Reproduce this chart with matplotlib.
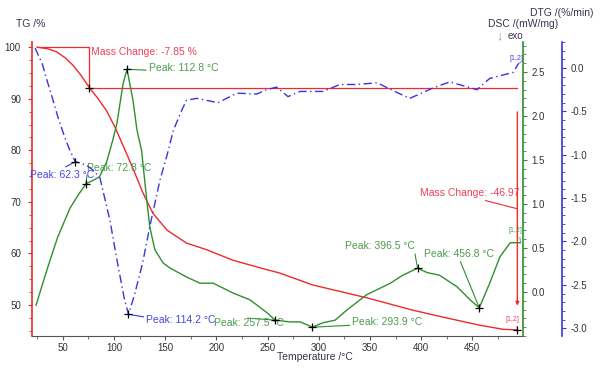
import matplotlib
matplotlib.use("Agg")
import matplotlib.pyplot as plt
from matplotlib.ticker import AutoMinorLocator, MultipleLocator

plt.rcParams['font.family'] = ['Liberation Sans', 'DejaVu Sans']

# TG curve (mass %)
tg_temp = [25, 35, 44, 52, 60, 68, 76, 85, 93, 101, 111, 120, 128, 138, 152, 171, 191,
           216, 243, 262, 294, 347, 392, 425, 457, 480, 494]
tg_mass = [100, 99.7, 99.1, 98.0, 96.5, 94.5, 92.15, 89.9, 87.6, 84.5, 80.0, 75.8, 71.9,
           67.8, 64.5, 62.0, 60.7, 58.7, 57.2, 56.2, 53.9, 51.4, 49.0, 47.5, 46.1, 45.3, 45.18]

# DSC curve (mW/mg)
dsc_temp = [24, 30, 37.6, 45, 57, 65, 72.8, 80, 86, 93, 99, 103, 109, 112.8, 118.6, 122.5,
            127, 132, 135, 140, 148, 155, 171, 184, 197, 216, 233, 250, 257.5, 272, 282,
            293.9, 304, 316, 328, 347, 370, 382, 396.5, 406, 418, 435, 448, 456.8, 467,
            477, 487, 497]
dsc_val = [-0.15, 0.08, 0.36, 0.62, 0.95, 1.10, 1.23, 1.27, 1.31, 1.48, 1.73, 1.92, 2.37,
           2.53, 2.18, 1.84, 1.61, 1.05, 0.74, 0.48, 0.33, 0.27, 0.17, 0.10, 0.10, -0.01,
           -0.09, -0.24, -0.32, -0.34, -0.34, -0.40, -0.35, -0.32, -0.20, -0.03, 0.10, 0.19,
           0.27, 0.22, 0.19, 0.06, -0.09, -0.18, 0.10, 0.40, 0.56, 0.56]

# DTG curve (%/min)
dtg_temp = [23, 30, 34.6, 40.5, 45.4, 52, 57, 62.3, 73, 80, 86.4, 96, 104, 110, 114.2, 120,
            128, 135, 145, 152, 158, 166.5, 171, 181, 201.6, 220, 239.5, 249, 259, 270,
            281.7, 304, 320.8, 337, 357, 376, 389, 411.6, 428, 454.6, 467, 490, 495]
dtg_val = [0.23, 0.05, -0.14, -0.37, -0.57, -0.80, -0.95, -1.08, -1.12, -1.18, -1.27,
           -1.75, -2.28, -2.65, -2.84, -2.62, -2.25, -1.83, -1.29, -1.0, -0.72, -0.48,
           -0.37, -0.35, -0.40, -0.29, -0.30, -0.25, -0.22, -0.33, -0.27, -0.27, -0.19,
           -0.19, -0.17, -0.28, -0.35, -0.23, -0.16, -0.25, -0.12, -0.05, 0.05]

# peak labels: temperature, value, text offset (px), leader anchor on text
dsc_peaks = [(112.8, 2.53, (22, 1), (0, 0.3)),
             (72.8, 1.23, (1, 16), (0, 0)),
             (257.5, -0.32, (-61, -3), (0.48, 1)),
             (293.9, -0.40, (40, 5), (0, 0.2)),
             (396.5, 0.27, (-73, 22), (1, 0)),
             (456.8, -0.18, (-55, 54), (0.5, 0))]
dtg_peaks = [(62.3, -1.08, (-45, -13), (0.47, 1)),
             (114.2, -2.84, (18, -6), (0, 0.8))]

# mass change steps: (temperature, mass)
mass_steps = [(25, 100.0), (76, 92.15), (494, 45.18)]

x_ticks = [50, 100, 150, 200, 250, 300, 350, 400, 450]
tg_ticks = [50, 60, 70, 80, 90, 100]
dsc_ticks = [0.0, 0.5, 1.0, 1.5, 2.0, 2.5]
dtg_ticks = [-3.0, -2.5, -2.0, -1.5, -1.0, -0.5, 0.0]

RED = '#ee2a2a'
GREEN = '#2f8f2f'
BLUE = '#3535e0'
RED_TXT = '#f0405a'
GREEN_TXT = '#4f9a4f'
BLUE_TXT = '#4646e6'
LABEL = '#3f3050'
TICK = '#333333'

fig = plt.figure(figsize=(6, 3.69), dpi=100)
ax = fig.add_axes([32 / 600, 33 / 369, 491 / 600, 294 / 369])
ax2 = ax.twinx()
ax3 = ax.twinx()

ax.plot(tg_temp, tg_mass, color=RED, lw=1.0, zorder=3)
ax2.plot(dsc_temp, dsc_val, color=GREEN, lw=1.0)
ax3.plot(dtg_temp, dtg_val, color=BLUE, lw=1.0, dashes=(6, 2.5, 1, 2.5))

ax.set_xlim(20, 499.5)
ax.set_ylim(44.0, 101.0)
ax2.set_ylim(-0.5, 2.84)
ax3.set_ylim(-3.09, 0.30)

# spines
for s in ['top', 'right']:
    ax.spines[s].set_visible(False)
ax.spines['left'].set_color(RED)
ax.spines['bottom'].set_color('#555555')
for s in ['top', 'left', 'bottom']:
    ax2.spines[s].set_visible(False)
    ax3.spines[s].set_visible(False)
ax2.spines['right'].set_color(GREEN)
ax3.spines['right'].set_color(BLUE)
ax3.spines['right'].set_position(('outward', 28))
ax3.spines['right'].set_linewidth(1.2)
ax2.spines['right'].set_linewidth(1.2)
ax.spines['left'].set_linewidth(1.2)

ax.set_xticks(x_ticks)
ax.xaxis.set_minor_locator(AutoMinorLocator(2))
ax.set_yticks(tg_ticks)
ax.yaxis.set_minor_locator(AutoMinorLocator(4))
ax2.set_yticks(dsc_ticks)
ax2.yaxis.set_minor_locator(AutoMinorLocator(5))
ax3.set_yticks(dtg_ticks)
ax3.yaxis.set_minor_locator(AutoMinorLocator(5))

ax.tick_params(axis='x', colors='#555555', labelcolor=TICK, labelsize=7, length=3, pad=2)
ax.tick_params(axis='x', which='minor', colors='#555555', length=2)
ax.tick_params(axis='y', colors=RED, labelcolor=TICK, labelsize=7, length=3, pad=5)
ax.tick_params(axis='y', which='minor', colors=RED, length=2)
ax2.tick_params(axis='y', colors=GREEN, labelcolor=TICK, labelsize=7, length=3, pad=3)
ax2.tick_params(axis='y', which='minor', colors=GREEN, length=2)
ax3.tick_params(axis='y', colors=BLUE, labelcolor=TICK, labelsize=7, length=3, pad=3)
ax3.tick_params(axis='y', which='minor', colors=BLUE, length=2)
ax2.yaxis.set_major_formatter(lambda v, p: f"{v:.1f}")
ax3.yaxis.set_major_formatter(lambda v, p: f"{v:.1f}")

# axis titles
fig.text(16 / 600, 1 - 24 / 369, 'TG /%', color=LABEL, fontsize=7.5, ha='left', va='center')
fig.text(488 / 600, 1 - 24 / 369, 'DSC /(mW/mg)', color=LABEL, fontsize=7.5, ha='left', va='center')
fig.text(530 / 600, 1 - 13 / 369, 'DTG /(%/min)', color=LABEL, fontsize=7.5, ha='left', va='center')
fig.text(496 / 600, 1 - 36 / 369, '\u2193', color='#999999', fontsize=9, ha='left', va='center')
fig.text(508 / 600, 1 - 36 / 369, 'exo', color=LABEL, fontsize=7, ha='left', va='center')
fig.text(315 / 600, 1 - 357 / 369, 'Temperature /\u00b0C', color=LABEL, fontsize=7.5,
         ha='center', va='center')

# mass change brackets
(t0, m0), (t1, m1), (t2, m2) = mass_steps
ax.plot([t0, t1, t1], [m0, m0, m1], color=RED, lw=0.9)
ax.plot([t1, t2], [m1, m1], color=RED, lw=0.9)
ax.plot([t1, t2], [m1, m2], ls='none', marker='+', color='black', ms=6, mew=0.9, zorder=5)
ax.annotate(f'Mass Change: {m1 - m0:.2f} %', xy=(t1, m0), xytext=(2, -5),
            textcoords='offset pixels', color=RED_TXT, fontsize=7.5, ha='left', va='center')
span = m1 - m2
ax.annotate('', xy=(t2, m2 + 0.1 * span), xytext=(t2, m1 - 0.1 * span),
            arrowprops=dict(arrowstyle='-|>', color=RED, lw=1.0, mutation_scale=5,
                            shrinkA=0, shrinkB=0))
ax.annotate(f'Mass Change: {m2 - m1:.2f}', xy=(t2, (m1 + m2) / 2), xytext=(2, 16),
            textcoords='offset pixels', color=RED_TXT, fontsize=7.5, ha='right', va='center',
            arrowprops=dict(arrowstyle='-', color=RED, lw=0.8, shrinkA=0, shrinkB=0,
                            relpos=(0.55, 0)))

# peak labels
for t, v, off, rp in dsc_peaks:
    ax2.plot(t, v, marker='+', color='black', ms=6, mew=0.9, zorder=5)
    ax2.annotate(f'Peak: {t:.1f} \u00b0C', xy=(t, v), xytext=off, textcoords='offset pixels',
                 color=GREEN_TXT, fontsize=7.5, ha='left', va='center',
                 arrowprops=dict(arrowstyle='-', color=GREEN, lw=0.8, shrinkA=0, shrinkB=0,
                                 relpos=rp))
for t, v, off, rp in dtg_peaks:
    ax3.plot(t, v, marker='+', color='black', ms=6, mew=0.9, zorder=5)
    ax3.annotate(f'Peak: {t:.1f} \u00b0C', xy=(t, v), xytext=off, textcoords='offset pixels',
                 color=BLUE_TXT, fontsize=7.5, ha='left', va='center',
                 arrowprops=dict(arrowstyle='-', color=BLUE, lw=0.8, shrinkA=0, shrinkB=0,
                                 relpos=rp))

# curve end tags
for a, tx, ty, off, c in [(ax, tg_temp[-1], tg_mass[-1], (2, 10), RED_TXT),
                          (ax2, dsc_temp[-1], dsc_val[-1], (2, 12), GREEN_TXT),
                          (ax3, dtg_temp[-1], dtg_val[-1], (5, 5), BLUE_TXT)]:
    a.annotate('[1,2]', xy=(tx, ty), xytext=off, textcoords='offset pixels', color=c,
               fontsize=5, ha='right', va='center',
               arrowprops=dict(arrowstyle='-', color=c, lw=0.6, shrinkA=0, shrinkB=0,
                               relpos=(0.8, 0)))

fig.savefig('out.png', dpi=100)
